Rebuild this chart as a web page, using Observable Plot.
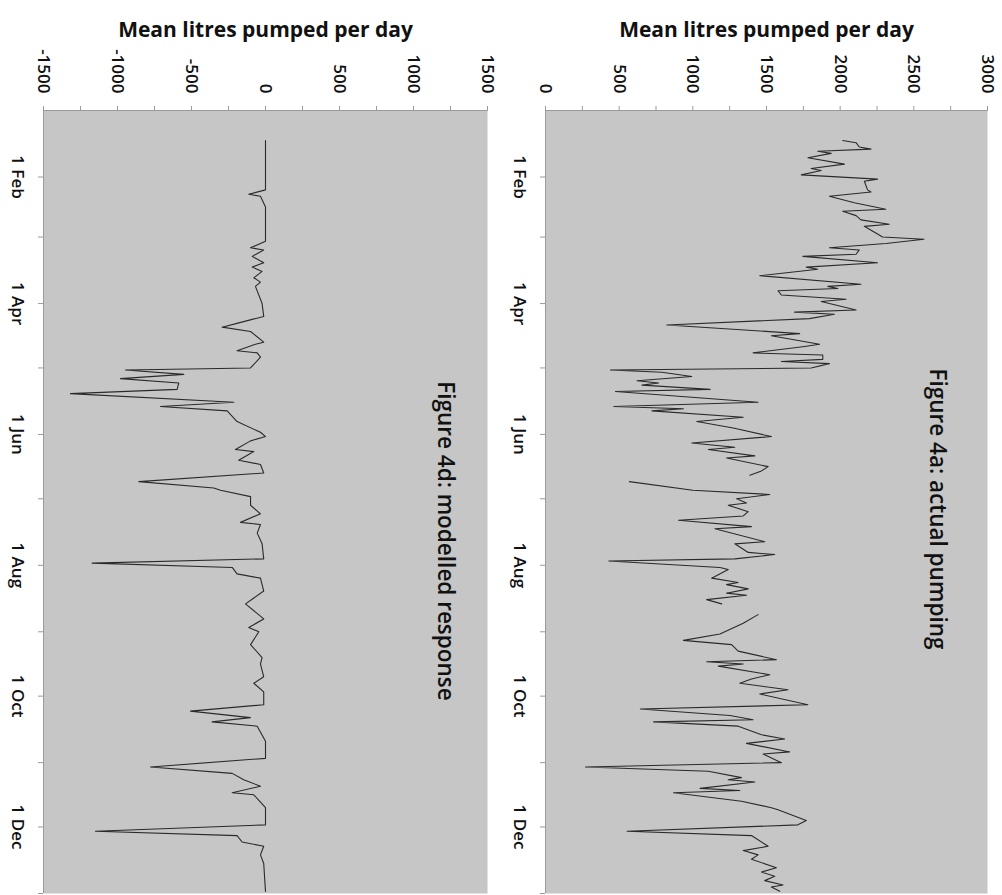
<!DOCTYPE html>
<html><head><meta charset="utf-8">
<script src="https://cdn.jsdelivr.net/npm/d3@7"></script>
<script src="https://cdn.jsdelivr.net/npm/@observablehq/plot@0.6"></script>
<style>
html,body{margin:0;padding:0;background:#fff;}
#wrap{display:flex;width:1002px;height:895px;overflow:hidden;}
#wrap svg{display:block;flex:none;}
</style></head><body><div id="wrap"></div>
<script>
const year = 2011;
// Day of year (1 = 1 Jan) and mean litres pumped per day
const actualDays = [15,16,18,19,20,21,23,26,28,29,31,33,34,38,39,41,44,47,48,50,52,54,55,60,61,63,65,66,68,69,72,74,75,78,82,83,84,85,87,89,90,94,95,96,98,101,105,106,110,111,114,115,117,118,119,121,122,123,125,127,128,129,131,132,137,139,140,141,144,146,149,153,156,158,159,162,163,167,169,171,172,174,178,180,182,184,185,188,190,192,195,196,202,203,207,208,210,211,214,215,219,221,222,224,226,227,229,231,233,236,240,245,248,250,253,257,258,259,260,264,266,268,271,273,278,280,283,285,286,288,292,294,296,300,301,305,307,309,312,313,314,317,318,319,323,326,327,332,334,337,339,344,346,348,350,354,356,358,360,362,363,365];
const actualValues = [2017,2108,2130,2209,1848,1939,1781,2029,1803,1871,1736,2254,2164,2186,2209,1927,2096,2310,2017,2108,2141,2333,2164,2288,2569,2310,1927,2130,2108,1747,2254,1770,1848,1454,2141,1916,1984,1578,1601,2040,1871,2108,1691,1961,1792,824,1725,1533,1860,1759,1409,1882,1882,1601,1927,1803,441,790,993,621,768,655,1117,475,1443,464,936,722,1342,1027,1274,1533,993,1285,1105,1421,1229,1511,1466,1387,null,569,1000,1522,1297,1364,1240,1376,1342,903,1398,1150,1488,1285,1376,1556,1285,430,1184,1240,1128,1308,1229,1376,1229,1364,1094,1196,null,1443,1342,1184,936,1263,1308,1567,1094,1342,1173,1522,1398,1319,1646,1454,1781,644,1252,1409,734,1308,1466,1623,1364,1657,1477,1601,272,1105,1330,1240,1421,1049,1319,869,1330,1533,1578,1770,1713,554,1398,1511,1342,1443,1398,1567,1466,1556,1488,1612,1533,1590];
const modelDays = [15,38,40,41,46,62,65,66,69,72,74,76,79,81,83,91,97,100,102,104,109,110,113,114,116,121,122,124,126,128,131,133,137,139,141,146,151,153,155,159,160,164,166,170,174,177,178,181,185,189,193,194,198,203,210,212,214,217,219,225,231,238,242,244,250,256,259,265,268,272,278,281,284,286,288,295,303,307,310,313,316,319,320,326,334,337,339,342,344,348,352,365];
const modelValues = [0,0,-113,-34,0,0,-101,-12,-90,-12,-90,-23,-79,-34,-68,-23,-12,-180,-293,-101,-12,-68,-192,-56,-34,-101,-946,-552,-980,-586,-597,-1318,-214,-710,-259,-192,-34,0,-101,-203,-79,-181,-34,-12,-856,-349,-304,-101,-101,-34,-169,-34,-56,-23,-12,-1171,-225,-192,-34,-12,-135,-12,-113,-45,-101,-23,-34,-12,-79,-12,-12,-507,-102,-361,-56,0,0,-777,-225,-147,-34,-225,-79,0,0,-1149,-192,-158,-12,-34,-12,0];

const actualTicks = [0,500,1000,1500,2000,2500,3000];
const modelTicks = [-1500,-1000,-500,0,500,1000,1500];
const labelMonths = [1,3,5,7,9,11];
const monthLabels = ["1 Feb","1 Apr","1 Jun","1 Aug","1 Oct","1 Dec"];
const axisTitle = "Mean litres pumped per day";
const actualTitle = "Figure 4a: actual pumping";
const modelTitle = "Figure 4d: modelled response";

const toDate = d => new Date(Date.UTC(year, 0, d));
const axisGrey = "#9a9a9a";

function panel({days, values, domain, ticks, title, width, ml, mr, titleDx, titleDy}) {
  const data = days.map((d, i) => ({date: toDate(d), value: values[i]}));
  const minor = d3.range(domain[0], domain[1] + 1, 250);
  const monthTicks = d3.utcMonth.range(new Date(Date.UTC(year, 1, 1)), new Date(Date.UTC(year + 1, 0, 2)));
  const labelDates = labelMonths.map(m => new Date(Date.UTC(year, m, 1)));
  return Plot.plot({
    width, height: 895,
    marginLeft: ml, marginRight: mr, marginTop: 110, marginBottom: 2,
    style: {fontFamily: "'Open Sans', sans-serif", background: "transparent", color: "#000"},
    x: {domain},
    y: {type: "utc", domain: [toDate(1), toDate(366)], reverse: true},
    marks: [
      Plot.frame({fill: "#c6c6c6", stroke: null}),
      Plot.axisX({anchor: "top", ticks: minor, tickSize: 5, tickFormat: () => null, stroke: axisGrey, label: null}),
      Plot.axisY({anchor: "left", ticks: monthTicks, tickSize: 5, tickFormat: () => null, stroke: axisGrey, label: null}),
      Plot.ruleX([domain[0]], {stroke: axisGrey}),
      Plot.ruleY([toDate(1)], {stroke: axisGrey}),
      Plot.text(ticks, {x: d => d, text: d => String(d), frameAnchor: "top", dy: -17, rotate: 90,
        textAnchor: "end", lineAnchor: "middle", fontSize: 17, fontWeight: 600, fill: "#111"}),
      Plot.text(labelDates, {y: d => d, text: (d, i) => monthLabels[i], frameAnchor: "left", dx: -26, rotate: 90,
        textAnchor: "middle", lineAnchor: "middle", fontSize: 17, fontWeight: 600, fill: "#111"}),
      Plot.text([axisTitle], {frameAnchor: "top", dy: -88, fontSize: 21, fontWeight: "bold", fill: "#111"}),
      Plot.text([title], {frameAnchor: "right", dx: -titleDx, dy: titleDy, rotate: 90, fontSize: 22.5,
        fontWeight: 600, lineAnchor: "middle", textAnchor: "middle", fill: "#111"}),
      Plot.line(data, {x: "value", y: "date", stroke: "#2a2a2a", strokeWidth: 1.1})
    ]
  });
}

const wrap = document.getElementById("wrap");
wrap.appendChild(panel({days: modelDays, values: modelValues, domain: [-1500, 1500], ticks: modelTicks,
  title: modelTitle, width: 501, ml: 43, mr: 14, titleDx: 42, titleDy: 39}));
wrap.appendChild(panel({days: actualDays, values: actualValues, domain: [0, 3000], ticks: actualTicks,
  title: actualTitle, width: 501, ml: 44, mr: 15, titleDx: 50, titleDy: 7}));
</script></body></html>
